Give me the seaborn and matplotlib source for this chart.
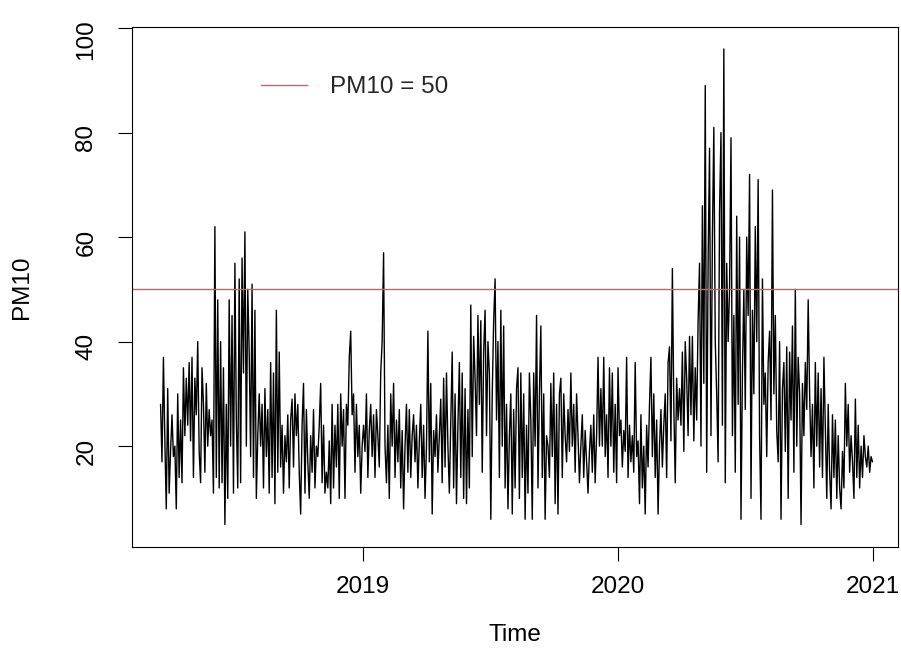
import seaborn as sns
import matplotlib
matplotlib.use('Agg')
import matplotlib.pyplot as plt
import numpy as np
import pandas as pd

# daily PM10 series (roughly every 2nd day)
pm10_2018 = [28,17,37,21,8,31,11, 19,26,18,20,8,30,14, 25,13,35,22,33,24,36,
             21,37,14,33,26,40,19, 13,35,28,15,32,20,27, 22,25,11,62,14,48,12,
             40,13,35,5,28,10,48, 20,45,11,55,25,12,52, 13,56,34,61,20,50,38,
             18,51,14,46,10,22,30, 20,28,12,31,18,27,11, 36,14,34,9,46,15,38,
             16,24,11,22,17,26,12, 25,29,16,30,22,28,15, 7,24,32,11,27,17,10,
             22,15,27,12,20,18,24, 32,13,24,11,15,12,21, 9,28,12,24,16,28,10,
             30,20,27,10,28,24,37, 42,26,30,15,28,18,24]
pm10_2019 = [11,20,24,19,30,14,23, 28,18,26,14,27,22,16, 34,40,57,20,13,24,10,
             30,20,32,14,25,17,27, 12,23,8,20,28,15,27, 14,22,26,17,24,12,21,
             28,14,24,10,20,42,17, 32,7,23,18,26,15,22, 29,13,33,16,34,20,11,
             25,38,12,30,9,24,36, 14,34,10,31,9,27,12, 47,18,41,33,22,45,28,
             44,15,38,46,22,40,34, 6,30,44,52,25,40,14, 46,20,43,12,28,8,22,
             30,7,27,12,31,35,10, 34,14,30,6,24,11,34, 25,6,34,20,45,12,30,
             43,14,30,6,22,20,14, 32,18,34,9,28,7,30, 33,14,30,22,17,27,19,
             34,20,28,15,30,22,13, 20,26,14,23,17,11,19, 24,15,26,13,22,37,20,
             31,20,37,18,26,14,35, 20,34,15,28,13,35,22]
pm10_2020 = [25,16,23,19,37,14,24, 17,22,15,36,18,21,9, 26,12,20,7,24,16,28,
             37,18,30,14,25,7,20, 27,16,24,30,14,36,39, 21,54,28,13,33,25,31,
             24,38,19,40,33,22,41, 26,41,21,35,25,44,55, 20,66,32,89,15,55,77,
             22,60,81,40,30,17,65, 80,24,96,13,55,40,50, 79,22,45,15,64,28,60,
             6,34,50,27,60,45,72, 10,46,30,62,40,71,22, 6,52,28,34,18,36,42,
             25,69,30,45,23,17,40, 6,31,36,19,39,10,38, 25,43,15,50,20,37,30,
             5,32,22,36,27,48,30, 18,28,12,36,20,34,16, 31,14,37,24,10,28,15,
             8,26,14,25,10,22,12, 8,19,12,32,20,28,15, 22,17,10,29,14,24,12,
             20,14,22,18,16,20,15, 18,17]

t_start = 2018.208
t_end = 2021.0
limita = 50
x_ticks = [2019, 2020, 2021]
y_ticks = [20, 40, 60, 80, 100]

pm10 = np.array(pm10_2018 + pm10_2019 + pm10_2020, dtype=float)
timp = np.linspace(t_start, t_end, len(pm10))
df = pd.DataFrame({'Time': timp, 'PM10': pm10})

sns.set_theme(style='white')
plt.rcParams['font.family'] = ['Liberation Sans', 'DejaVu Sans']

f = plt.figure(figsize=(9.01, 6.49), dpi=100)
W, H = 901, 649
ax = f.add_axes([132 / W, 1 - 547 / H, (898 - 132) / W, (547 - 27) / H])

sns.lineplot(data=df, x='Time', y='PM10', color='black', linewidth=1.0,
             ax=ax, estimator=None, sort=False)
ax.axhline(limita, color='#DF536B', linewidth=1.0, label='PM10 = 50')

ax.set_xlim(2018.096, 2018.096 + 766 / 255)
ax.set_ylim(0.7, 100.2)
ax.set_xticks(x_ticks)
ax.set_xticklabels([str(v) for v in x_ticks])
ax.set_yticks(y_ticks)
ax.set_yticklabels([str(v) for v in y_ticks])

for s in ax.spines.values():
    s.set_visible(True)
    s.set_color('black')
    s.set_linewidth(0.8)

ax.tick_params(axis='both', direction='out', length=10, width=0.8, color='black',
               labelsize=17.5, labelcolor='black')
ax.tick_params(axis='x', pad=11, bottom=True)
ax.tick_params(axis='y', pad=15, left=True, labelrotation=90)

ax.set_xlabel('Time', fontsize=17.5, color='black')
ax.set_ylabel('PM10', fontsize=17.5, color='black')
ax.xaxis.set_label_coords(0.5, (547 - 624) / 520)
ax.yaxis.set_label_coords((33 - 132) / 766, 0.5)

ax.legend(loc='center left', bbox_to_anchor=((261 - 132) / 766, (547 - 87) / 520),
          frameon=False, fontsize=17.5, handlelength=1.9, handletextpad=0.95,
          borderpad=0, borderaxespad=0)

f.savefig('out.png', dpi=100)
